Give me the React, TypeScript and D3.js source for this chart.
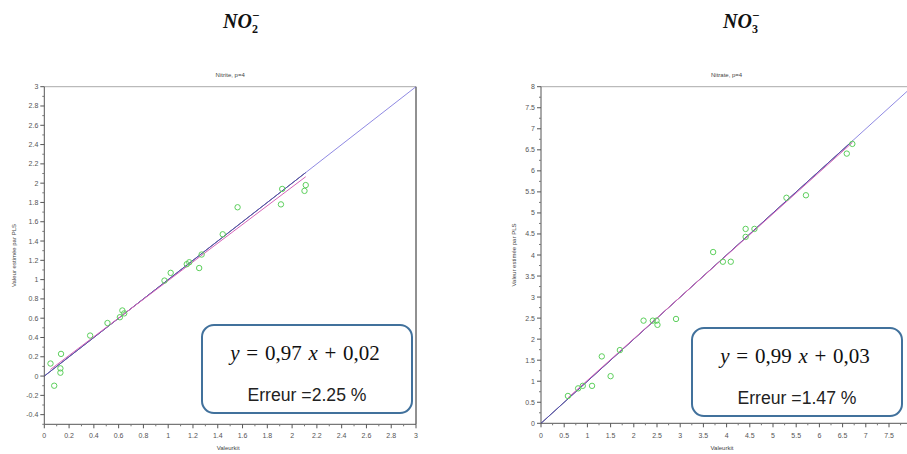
import * as d3 from 'd3'

// Nitrite (NO2-) : valeur kit vs valeur estimée par PLS
const nitriteKit = [0.05, 0.08, 0.135, 0.13, 0.13, 0.37, 0.51, 0.61, 0.63, 0.645, 0.97, 1.02, 1.15, 1.17, 1.25, 1.27, 1.44, 1.56, 1.92, 1.91, 2.1, 2.11]
const nitritePls = [0.13, -0.1, 0.23, 0.08, 0.035, 0.42, 0.55, 0.61, 0.68, 0.65, 0.99, 1.07, 1.16, 1.18, 1.12, 1.26, 1.47, 1.75, 1.94, 1.78, 1.92, 1.98]

// Nitrate (NO3-)
const nitrateKit = [0.58, 0.8, 0.9, 1.1, 1.31, 1.5, 1.7, 2.21, 2.41, 2.49, 2.51, 2.91, 3.71, 3.92, 4.09, 4.41, 4.41, 4.6, 5.29, 5.71, 6.59, 6.71]
const nitratePls = [0.65, 0.83, 0.89, 0.89, 1.59, 1.12, 1.74, 2.44, 2.44, 2.44, 2.34, 2.48, 4.07, 3.84, 3.84, 4.62, 4.43, 4.62, 5.36, 5.42, 6.41, 6.64]

const nitriteXTicks = [0, 0.2, 0.4, 0.6, 0.8, 1, 1.2, 1.4, 1.6, 1.8, 2, 2.2, 2.4, 2.6, 2.8, 3]
const nitriteYTicks = [-0.4, -0.2, 0, 0.2, 0.4, 0.6, 0.8, 1, 1.2, 1.4, 1.6, 1.8, 2, 2.2, 2.4, 2.6, 2.8, 3]
const nitrateXTicks = [0, 0.5, 1, 1.5, 2, 2.5, 3, 3.5, 4, 4.5, 5, 5.5, 6, 6.5, 7, 7.5, 8]
const nitrateYTicks = [0, 0.5, 1, 1.5, 2, 2.5, 3, 3.5, 4, 4.5, 5, 5.5, 6, 6.5, 7, 7.5, 8]

const fit = { nitrite: [0.97, 0.02], nitrate: [0.99, 0.03] }

interface PanelProps {
  kit: number[]
  pls: number[]
  xDomain: [number, number]
  yDomain: [number, number]
  xRange: [number, number]
  yRange: [number, number]
  xTicks: number[]
  yTicks: number[]
  title: string
  slope: number
  intercept: number
  equation: string[]
  erreur: string
  box: { x: number; y: number; w: number; h: number }
  eqY: number
  errY: number
  yLabelX: number
  id: string
}

function Panel(p: PanelProps) {
  const x = d3.scaleLinear().domain(p.xDomain).range(p.xRange)
  const y = d3.scaleLinear().domain(p.yDomain).range(p.yRange)
  const [x0, x1] = p.xRange
  const [y0, y1] = p.yRange
  const step = p.xTicks[1] - p.xTicks[0]
  const ystep = p.yTicks[1] - p.yTicks[0]
  const xMinor = p.xTicks.slice(0, -1).map(t => t + step / 2)
  const yMinor = d3.range(p.yDomain[0], p.yDomain[1], ystep / 2).filter(v => !p.yTicks.some(t => Math.abs(t - v) < 1e-6))
  const line = d3.line<[number, number]>().x(d => x(d[0])).y(d => y(d[1]))
  const maxKit = d3.max(p.kit) as number
  const minKit = d3.min(p.kit) as number
  const tickFont = { fontFamily: 'Liberation Sans, Arial, sans-serif', fontSize: 7, fill: '#555' }
  const cx = p.box.x + p.box.w / 2

  return (
    <g>
      <defs>
        <clipPath id={`clip-${p.id}`}>
          <rect x={x0} y={y1} width={x1 - x0} height={y0 - y1} />
        </clipPath>
      </defs>
      <text x={(x0 + x1) / 2} y={77} textAnchor="middle" fontFamily="Liberation Sans, sans-serif" fontSize={6} fill="#444">{p.title}</text>
      {/* cadre */}
      <line x1={x0} x2={x1} y1={y1} y2={y1} stroke="#aaa" strokeWidth={1} />
      <line x1={x1} x2={x1} y1={y1} y2={y0} stroke="#222" strokeWidth={1} />
      <line x1={x0} x2={x0} y1={y1} y2={y0} stroke="#555" strokeWidth={1} />
      <line x1={x0} x2={x1} y1={y0} y2={y0} stroke="#555" strokeWidth={1} />

      {p.xTicks.map(t => (
        <g key={`xt${t}`}>
          <line x1={x(t)} x2={x(t)} y1={y0} y2={y0 + 4} stroke="#555" />
          {x(t) < 900 && <text x={x(t)} y={438} textAnchor="middle" {...tickFont}>{t}</text>}
        </g>
      ))}
      {xMinor.map(t => (
        <line key={`xm${t}`} x1={x(t)} x2={x(t)} y1={y0} y2={y0 + 2} stroke="#777" />
      ))}
      {p.yTicks.map(t => (
        <g key={`yt${t}`}>
          <line x1={x0 - 4} x2={x0} y1={y(t)} y2={y(t)} stroke="#555" />
          <text x={x0 - 6} y={y(t) + 2.5} textAnchor="end" {...tickFont}>{t}</text>
        </g>
      ))}
      {yMinor.map(t => (
        <line key={`ym${t}`} x1={x0 - 2} x2={x0} y1={y(t)} y2={y(t)} stroke="#777" />
      ))}

      <text x={(x0 + Math.min(x1, 907)) / 2 - 2} y={450} textAnchor="middle" fontFamily="Liberation Sans, sans-serif" fontSize={6} fill="#444">Valeurkit</text>
      <text transform={`translate(${p.yLabelX},${(y0 + y1) / 2}) rotate(-90)`} textAnchor="middle" fontFamily="Liberation Sans, sans-serif" fontSize={6} fill="#444">Valeur estimée par PLS</text>

      <g clipPath={`url(#clip-${p.id})`}>
        <path d={line([[0, 0], [maxKit, maxKit]]) ?? ''} stroke="#222244" strokeWidth={1} fill="none" />
        <path d={line([[p.xDomain[0], p.xDomain[0]], [p.xDomain[1], p.xDomain[1]]]) ?? ''} stroke="#6a62d8" strokeWidth={1} fill="none" opacity={0.75} />
        <path d={line([[minKit, p.slope * minKit + p.intercept], [maxKit, p.slope * maxKit + p.intercept]]) ?? ''} stroke="#d565b8" strokeWidth={1} fill="none" />
        {p.kit.map((k, i) => (
          <circle key={i} cx={x(k)} cy={y(p.pls[i])} r={2.7} fill="none" stroke="#5ccf5c" strokeWidth={1} />
        ))}
      </g>

      <rect x={p.box.x} y={p.box.y} width={p.box.w} height={p.box.h} rx={12} fill="#fff" stroke="#41719c" strokeWidth={2} />
      <text x={cx - 2} y={p.eqY} textAnchor="middle" fontFamily="Liberation Serif, serif" fontSize={21} fill="#111" wordSpacing={1.5}>
        <tspan fontStyle="italic">y</tspan>
        <tspan> = {p.equation[0]} </tspan>
        <tspan fontStyle="italic">x</tspan>
        <tspan> + {p.equation[1]}</tspan>
      </text>
      <text x={cx} y={p.errY} textAnchor="middle" fontFamily="Liberation Sans, Arial, sans-serif" fontSize={18} fill="#222" textLength={119} lengthAdjust="spacingAndGlyphs">{p.erreur}</text>
    </g>
  )
}

function Header({ x, sub }: { x: number; sub: string }) {
  const f = { fontFamily: 'Liberation Serif, serif', fontWeight: 'bold' as const, fontStyle: 'italic' as const, fill: '#111' }
  return (
    <g>
      <text x={x} y={28} fontSize={20} {...f}>NO</text>
      <text x={x + 29} y={33} fontSize={12} {...f} fontStyle="normal">{sub}</text>
      <text x={x + 29} y={20} fontSize={13} {...f} fontStyle="normal">−</text>
    </g>
  )
}

export default function App() {
  return (
    <svg width={907} height={454} style={{ position: 'absolute', left: 0, top: 0, background: '#fff' }}>
      <rect width={907} height={454} fill="#fff" />
      <Header x={223} sub="2" />
      <Header x={723} sub="3" />
      <Panel
        id="nitrite"
        kit={nitriteKit}
        pls={nitritePls}
        xDomain={[0, 3]}
        yDomain={[-0.5, 3]}
        xRange={[44.3, 416]}
        yRange={[424.3, 86.7]}
        xTicks={nitriteXTicks}
        yTicks={nitriteYTicks}
        title="Nitrite, p=4"
        slope={fit.nitrite[0]}
        intercept={fit.nitrite[1]}
        equation={['0,97', '0,02']}
        erreur="Erreur =2.25 %"
        box={{ x: 202, y: 325, w: 210, h: 88 }}
        eqY={360}
        errY={401}
        yLabelX={16}
      />
      <Panel
        id="nitrate"
        kit={nitrateKit}
        pls={nitratePls}
        xDomain={[0, 8]}
        yDomain={[0, 8]}
        xRange={[541, 912.2]}
        yRange={[423.3, 86.7]}
        xTicks={nitrateXTicks}
        yTicks={nitrateYTicks}
        title="Nitrate, p=4"
        slope={fit.nitrate[0]}
        intercept={fit.nitrate[1]}
        equation={['0,99', '0,03']}
        erreur="Erreur =1.47 %"
        box={{ x: 692, y: 328, w: 210, h: 88 }}
        eqY={363}
        errY={404}
        yLabelX={516}
      />
    </svg>
  )
}
